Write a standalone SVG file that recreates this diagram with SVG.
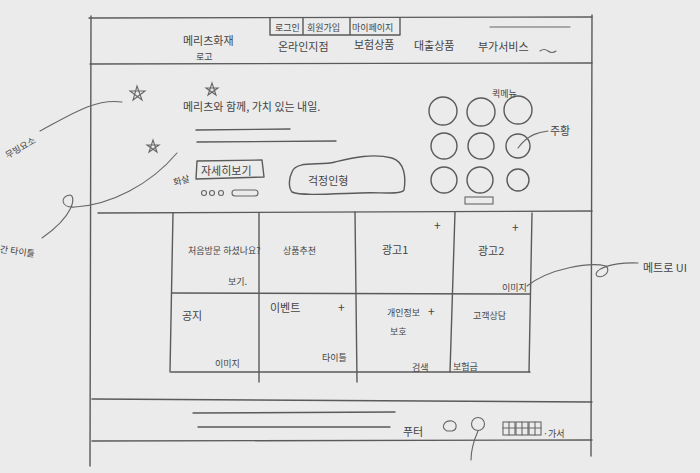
<svg xmlns="http://www.w3.org/2000/svg" width="700" height="473" viewBox="0 0 700 473">
<style>
.p{fill:none;stroke:#5a5a5a;stroke-width:1.4;stroke-linecap:round;stroke-linejoin:round}
.pt{fill:none;stroke:#666;stroke-width:1.1;stroke-linecap:round}
.t{font-family:"Noto Sans CJK KR","Noto Sans",sans-serif;fill:#444;font-size:11px}
.s{font-size:9px}
.b{font-size:12px}
</style>
<rect width="700" height="473" fill="#ebebeb"/>
<g id="frame">
<path class="p" d="M89 18 L592 17"/>
<path class="p" d="M91 16 L90 466"/>
<path class="p" d="M592 15 L591 456"/>
<path class="p" d="M90 64 L592 63"/>
</g>
<g id="header">
<path class="p" d="M270 18 L270 35 L400 35 L400 18 M303 18 L303 35 M350 18 L350 35"/>
<text class="t s" x="275" y="31">로그인</text>
<text class="t s" x="307" y="31">회원가입</text>
<text class="t s" x="352" y="31">마이페이지</text>
<path class="pt" d="M490 27 L570 27"/>
<text class="t" x="183" y="45">메리츠화재</text>
<text class="t s" x="196" y="60">로고</text>
<text class="t" x="278" y="51">온라인지점</text>
<text class="t" x="354" y="49">보험상품</text>
<text class="t" x="414" y="50">대출상품</text>
<text class="t" x="478" y="51">부가서비스</text>
<path class="pt" d="M540 51 q4 -3 8 0 t8 0"/>
</g>
<g id="banner">
<path class="pt" d="M137 86 L142 100 L130 91 L145 91 L133 100 Z"/>
<path class="pt" d="M212 83 L216 95 L206 88 L218 88 L208 95 Z"/>
<path class="pt" d="M153 140 L157 152 L147 145 L159 145 L149 152 Z"/>
<text class="t" x="183" y="111">메리츠와 함께, 가치 있는 내일.</text>
<path class="p" d="M196 130 L290 129"/>
<path class="p" d="M197 142 L336 141"/>
</g>
<g id="detail-button">
<text class="t s" x="173" y="184" transform="rotate(-15 180 180)">화살</text>
<path class="p" d="M197 161 L262 160 L264 177 L196 179 Z"/>
<text class="t" x="201" y="175">자세히보기</text>
<circle class="pt" cx="204" cy="193" r="2.5"/>
<circle class="pt" cx="212" cy="193" r="2.5"/>
<circle class="pt" cx="221" cy="193" r="2.5"/>
<rect class="pt" x="232" y="190" width="26" height="6" rx="3"/>
</g>
<g id="worry-doll">
<path class="p" d="M292 172 C296 160 320 166 335 162 C352 158 372 153 392 158 C405 162 406 178 404 190 C402 195 380 192 360 193 C330 194 300 196 292 192 C288 187 289 178 292 172 Z"/>
<text class="t" x="308" y="185">걱정인형</text>
</g>
<g id="quick-menu">
<text class="t s" x="492" y="97">퀵메뉴</text>
<circle class="p" cx="443" cy="111" r="14"/>
<circle class="p" cx="481" cy="112" r="14"/>
<circle class="p" cx="518" cy="110" r="14"/>
<circle class="p" cx="444" cy="146" r="13"/>
<circle class="p" cx="481" cy="146" r="13"/>
<circle class="p" cx="518" cy="146" r="12"/>
<circle class="p" cx="444" cy="180" r="13"/>
<circle class="p" cx="480" cy="180" r="13"/>
<circle class="p" cx="518" cy="180" r="11"/>
<rect class="pt" x="465" y="197" width="28" height="7"/>
<text class="t" x="550" y="135">주황</text>
</g>
<g id="grid">
<path class="p" d="M98 213 L592 211"/>
<path class="p" d="M173 213 L170 372"/>
<path class="p" d="M259 213 L259 382"/>
<path class="p" d="M355 212 L357 382"/>
<path class="p" d="M455 212 L450 372"/>
<path class="p" d="M532 213 L529 372"/>
<path class="p" d="M172 293 L530 294"/>
<path class="p" d="M171 372 L530 372"/>
</g>
<g id="cell-first-visit">
<text class="t s" x="188" y="254">처음방문 하셨나요?</text>
<text class="t s" x="228" y="285">보기.</text>
</g>
<g id="cell-recommend"><text class="t s" x="283" y="254">상품추천</text></g>
<g id="cell-ad1">
<text class="t" x="382" y="254">광고1</text>
<text class="t b" x="434" y="230">+</text>
</g>
<g id="cell-ad2">
<text class="t" x="478" y="255">광고2</text>
<text class="t b" x="512" y="232">+</text>
<text class="t s" x="502" y="291">이미지</text>
</g>
<g id="cell-notice">
<text class="t" x="182" y="320">공지</text>
<text class="t s" x="215" y="367">이미지</text>
</g>
<g id="cell-event">
<text class="t" x="270" y="312">이벤트</text>
<text class="t b" x="338" y="312">+</text>
<text class="t s" x="322" y="361">타이틀</text>
</g>
<g id="cell-privacy">
<text class="t s" x="387" y="316">개인정보</text>
<text class="t s" x="390" y="335">보호</text>
<text class="t b" x="428" y="316">+</text>
<text class="t s" x="412" y="371">검색</text>
</g>
<g id="cell-support">
<text class="t s" x="473" y="319">고객상담</text>
<text class="t s" x="453" y="370">보험금</text>
</g>
<g id="footer">
<path class="p" d="M92 399 L592 402"/>
<path class="p" d="M92 441 L592 440"/>
<path class="p" d="M193 413 L395 412"/>
<path class="p" d="M198 427 L390 427"/>
<text class="t" x="403" y="436">푸터</text>
<path class="pt" d="M447 431 C440 428 444 420 452 421 C458 423 457 430 452 431 Z"/>
<circle class="pt" cx="478" cy="424" r="6.5"/>
<g class="pt">
<rect x="503" y="422" width="12" height="13"/><path d="M503 428 L515 428 M509 422 L509 435"/>
<rect x="516" y="422" width="12" height="13"/><path d="M516 428 L528 428 M522 422 L522 435"/>
<rect x="529" y="422" width="12" height="13"/><path d="M529 428 L541 428 M535 422 L535 435"/>
</g>
<text class="t s" x="543" y="437">·가서</text>
</g>
<g id="annotations">
<text class="t s" x="0" y="150" transform="rotate(-30 20 140)">무빙요소</text>
<text class="t s" x="0" y="255" transform="rotate(8 20 250)">간 타이틀</text>
<text class="t" x="643" y="272">메트로 UI</text>
</g>
<g id="connectors">
<path class="pt" d="M40 131 C70 115 95 98 122 102"/>
<path class="pt" d="M177 153 C150 185 110 205 75 207 C60 208 60 196 70 195 C76 196 75 215 42 238"/>
<path class="pt" d="M527 286 C550 268 590 262 606 266 C612 272 602 279 597 276 C592 270 610 262 638 263"/>
<path class="pt" d="M518 148 C528 134 540 132 548 131"/>
<path class="pt" d="M478 431 C474 440 471 450 471 460"/>
</g>
</svg>
